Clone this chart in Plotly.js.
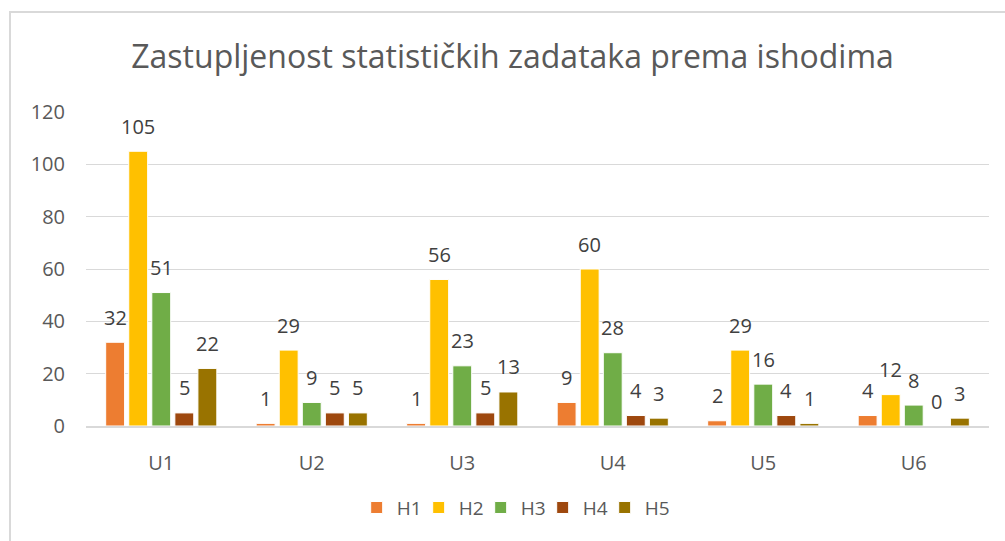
<!DOCTYPE html>
<html>
<head>
<meta charset="utf-8">
<script src="https://cdn.plot.ly/plotly-3.0.1.min.js"></script>
<style>
  html, body { margin: 0; padding: 0; background: #fff; }
  #wrap { position: relative; width: 1005px; height: 541px; overflow: hidden; }
  #chart { width: 1005px; height: 541px; }
  #frame { position: absolute; left: 9px; top: 11px; width: 1010px; height: 560px;
           border: 2px solid #d9d9d9; pointer-events: none; box-sizing: border-box; }
</style>
</head>
<body>
<div id="wrap">
  <div id="chart"></div>
  <div id="frame"></div>
</div>
<script>
const categories = ["U1", "U2", "U3", "U4", "U5", "U6"];
const seriesNames = ["H1", "H2", "H3", "H4", "H5"];
const H1 = [32, 1, 1, 9, 2, 4];
const H2 = [105, 29, 56, 60, 29, 12];
const H3 = [51, 9, 23, 28, 16, 8];
const H4 = [5, 5, 5, 4, 4, 0];
const H5 = [22, 5, 13, 3, 1, 3];
const yTicks = [0, 20, 40, 60, 80, 100, 120];

const seriesValues = [H1, H2, H3, H4, H5];
const colors = ["#ED7D31", "#FFC000", "#70AD47", "#9E480E", "#997300"];
const FONT = "Open Sans, sans-serif";

const W = 1005, ML = 86, MR = 16;
const bargap = 0.234, bargroupgap = 0.18;
const catWidth = (W - ML - MR) / categories.length;
const slot = catWidth * (1 - bargap) / seriesNames.length;

const traces = seriesNames.map((name, i) => ({
  type: "bar",
  name: name,
  x: categories,
  y: seriesValues[i],
  marker: { color: colors[i], line: { color: "#ffffff", width: 1 } },
  hoverinfo: "x+y+name"
}));

const annotations = [];
seriesValues.forEach((vals, i) => {
  vals.forEach((v, j) => {
    annotations.push({
      x: categories[j], y: v, xref: "x", yref: "y",
      text: String(v), showarrow: false,
      xshift: (i - (seriesNames.length - 1) / 2) * slot,
      yshift: 25, yanchor: "middle", xanchor: "center",
      font: { family: FONT, size: 20, color: "#404040" }
    });
  });
});

const layout = {
  width: 1005, height: 541,
  margin: { l: ML, r: MR, t: 112, b: 115 },
  paper_bgcolor: "rgba(0,0,0,0)", plot_bgcolor: "#ffffff",
  title: {
    text: "Zastupljenost statističkih zadataka prema ishodima",
    font: { family: FONT, size: 32, color: "#595959" },
    x: 0.51, xref: "container", xanchor: "center",
    y: 0.895, yref: "container", yanchor: "middle"
  },
  barmode: "group", bargap: bargap, bargroupgap: bargroupgap,
  xaxis: {
    type: "category", categoryarray: categories,
    showgrid: false, showline: true, linecolor: "#d9d9d9", linewidth: 2,
    ticks: "", ticklabelstandoff: 18,
    tickfont: { family: FONT, size: 20, color: "#595959" },
    zeroline: false
  },
  yaxis: {
    range: [0, 120], tickvals: yTicks, ticktext: yTicks.map(String),
    showgrid: true, gridcolor: "#d9d9d9", gridwidth: 1,
    zeroline: false, showline: false, ticks: "", ticklabelstandoff: 20,
    tickfont: { family: FONT, size: 20, color: "#595959" }
  },
  showlegend: true,
  legend: {
    orientation: "h", x: 0.4714, xanchor: "center", y: -0.26, yanchor: "middle",
    font: { family: FONT, size: 19, color: "#595959" },
    traceorder: "normal", itemwidth: 30,
    entrywidth: 17, entrywidthmode: "pixels"
  },
  annotations: annotations
};

Plotly.newPlot("chart", traces, layout, { displayModeBar: false, staticPlot: true }).then(gd => {
  gd.querySelectorAll(".legend .scrollbox, .legend").forEach(el => el.removeAttribute("clip-path"));
  gd.querySelectorAll(".legend [clip-path]").forEach(el => el.removeAttribute("clip-path"));
});
</script>
</body>
</html>
